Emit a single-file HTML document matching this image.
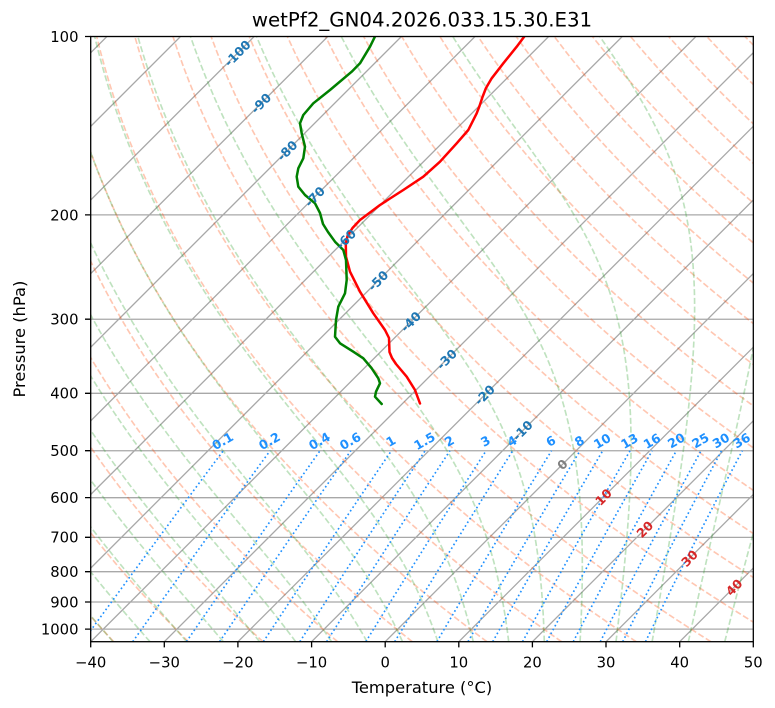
<!DOCTYPE html>
<html><head><meta charset="utf-8"><style>
html,body{margin:0;padding:0;background:#fff;width:775px;height:708px;overflow:hidden}
svg{display:block;font-family:"DejaVu Sans","Liberation Sans",sans-serif}
</style></head><body>
<svg id="s" width="775" height="708" viewBox="0 0 775 708" xmlns="http://www.w3.org/2000/svg">
<defs><clipPath id="c"><rect x="90.7" y="36.5" width="662.6" height="605.2"/></clipPath></defs>
<rect width="775" height="708" fill="#fff"/>
<g id="bg" clip-path="url(#c)" fill="none"></g>
<g clip-path="url(#c)" fill="none" stroke-width="2.5" stroke-linejoin="round" stroke-linecap="round">
<polyline stroke="#ff0000" points="524.3,36.5 516.7,46.7 503.3,63.3 491.7,78.3 486,88 482.5,97 479.5,106 476.7,113.3 468.3,130 456.7,143.3 440,161.7 423.3,176.7 403.3,190 390,198.5 380,205 370,212.5 360,220 352.5,228 347.5,236 345.8,244 346,256.7 350,271.7 360,291.7 373.3,313.3 385,330 389,338 389.5,352 392,358 396,364 406.7,376.7 415,390 420,403.5"/>
<polyline stroke="#008000" points="375,36.5 370,46.7 360,63.3 351.7,71.7 330,90 313.3,103.3 303.3,115 300,123.3 301.7,133.3 305,146.7 303.3,158.3 298.3,168.3 296.7,176.7 298.3,186.7 305,195 315,203.3 320,213 323,224 328,232 335,241.7 343.3,250 346,260 346.7,280 345,293.3 338.3,306.7 336,320 335,336.7 340,343.3 353.3,351.7 363.3,358.3 371.7,368.3 378.3,378.3 380,383.3 376,391.7 375,396.7 381.7,404"/>
</g>
<g font-weight="bold" font-size="12.5" text-anchor="middle" dominant-baseline="central">
<text transform="translate(237.4,53.3) rotate(-45)" fill="#1f77b4">-100</text>
<text transform="translate(261.0,103.3) rotate(-45)" fill="#1f77b4">-90</text>
<text transform="translate(287.2,150.7) rotate(-45)" fill="#1f77b4">-80</text>
<text transform="translate(314.8,196.7) rotate(-45)" fill="#1f77b4">-70</text>
<text transform="translate(345.9,239.3) rotate(-45)" fill="#1f77b4">-60</text>
<text transform="translate(378.1,280.7) rotate(-45)" fill="#1f77b4">-50</text>
<text transform="translate(410.7,321.7) rotate(-45)" fill="#1f77b4">-40</text>
<text transform="translate(446.7,359.3) rotate(-45)" fill="#1f77b4">-30</text>
<text transform="translate(484.6,395) rotate(-45)" fill="#1f77b4">-20</text>
<text transform="translate(522.5,430.5) rotate(-45)" fill="#1f77b4">-10</text>
<text transform="translate(562.4,464.5) rotate(-45)" fill="#808080">0</text>
<text transform="translate(603.5,497) rotate(-45)" fill="#d62728">10</text>
<text transform="translate(644.8,529.3) rotate(-45)" fill="#d62728">20</text>
<text transform="translate(689.5,558.3) rotate(-45)" fill="#d62728">30</text>
<text transform="translate(734.1,587.3) rotate(-45)" fill="#d62728">40</text>
</g>
<g font-weight="bold" font-size="12.5" text-anchor="middle" dominant-baseline="central" fill="#1e90ff">
<text transform="translate(222.6,441) rotate(-30)">0.1</text>
<text transform="translate(269.4,441) rotate(-30)">0.2</text>
<text transform="translate(319.4,441) rotate(-30)">0.4</text>
<text transform="translate(350.2,441) rotate(-30)">0.6</text>
<text transform="translate(390.7,441) rotate(-30)">1</text>
<text transform="translate(424.5,441) rotate(-30)">1.5</text>
<text transform="translate(449.3,441) rotate(-30)">2</text>
<text transform="translate(485.4,441) rotate(-30)">3</text>
<text transform="translate(512.0,441) rotate(-30)">4</text>
<text transform="translate(550.8,441) rotate(-30)">6</text>
<text transform="translate(579.4,441) rotate(-30)">8</text>
<text transform="translate(602.1,441) rotate(-30)">10</text>
<text transform="translate(629.4,441) rotate(-30)">13</text>
<text transform="translate(651.9,441) rotate(-30)">16</text>
<text transform="translate(676.2,440.5) rotate(-30)">20</text>
<text transform="translate(700.4,440.5) rotate(-30)">25</text>
<text transform="translate(720.9,440.5) rotate(-30)">30</text>
<text transform="translate(741.6,440.5) rotate(-30)">36</text>
</g>
<rect x="90.7" y="36.5" width="662.6" height="605.2" fill="none" stroke="#000" stroke-width="1.3"/>
<g stroke="#000" stroke-width="1.3">
<path d="M85 36.5H90.7M85 214.9H90.7M85 319.2H90.7M85 393.3H90.7M85 450.7H90.7M85 497.6H90.7M85 537.3H90.7M85 571.7H90.7M85 602H90.7M85 629.1H90.7"/>
<path d="M90.7 641.7V647.4M164.3 641.7V647.4M237.9 641.7V647.4M311.6 641.7V647.4M385.2 641.7V647.4M458.8 641.7V647.4M532.4 641.7V647.4M606 641.7V647.4M679.7 641.7V647.4M753.3 641.7V647.4"/>
</g>
<g font-size="14.8" fill="#000" text-anchor="end">
<text x="78.5" y="41.9">100</text>
<text x="78.5" y="220.3">200</text>
<text x="78.5" y="324.6">300</text>
<text x="78.5" y="398.7">400</text>
<text x="78.5" y="456.1">500</text>
<text x="78.5" y="503">600</text>
<text x="78.5" y="542.7">700</text>
<text x="78.5" y="577.1">800</text>
<text x="78.5" y="607.4">900</text>
<text x="78.5" y="634.5">1000</text>
</g>
<g font-size="14.8" fill="#000" text-anchor="middle">
<text x="90.7" y="667.3">−40</text>
<text x="164.3" y="667.3">−30</text>
<text x="237.9" y="667.3">−20</text>
<text x="311.6" y="667.3">−10</text>
<text x="385.2" y="667.3">0</text>
<text x="458.8" y="667.3">10</text>
<text x="532.4" y="667.3">20</text>
<text x="606" y="667.3">30</text>
<text x="679.7" y="667.3">40</text>
<text x="753.3" y="667.3">50</text>
</g>
<text x="422" y="693" font-size="16.3" text-anchor="middle" fill="#000">Temperature (°C)</text>
<text transform="translate(25,339.1) rotate(-90)" font-size="16.3" text-anchor="middle" fill="#000">Pressure (hPa)</text>
<text x="422" y="26.7" font-size="19.8" text-anchor="middle" fill="#000">wetPf2_GN04.2026.033.15.30.E31</text>
</svg>
<script>
(function(){
var L=90.7,R=753.3,TOP=36.5,B=641.7;
var ppx=(R-L)/90, ppd=(B-TOP)/Math.log10(10.5);
function Y(p){return TOP+Math.log10(p/100)*ppd;}
function X(t,p){return L+(t+40)*ppx+(B-Y(p));}
var NS='http://www.w3.org/2000/svg';
var bg=document.getElementById('bg');
function add(d,stroke,w,op,dash){
  if(!d)return;
  var e=document.createElementNS(NS,'path');
  e.setAttribute('d',d);e.setAttribute('stroke',stroke);
  e.setAttribute('stroke-width',w);e.setAttribute('stroke-opacity',op);
  if(dash)e.setAttribute('stroke-dasharray',dash);
  e.setAttribute('fill','none');bg.appendChild(e);
}
function pathFrom(pts){
  var d='',first=true;
  for(var i=0;i<pts.length;i++){
    var x=pts[i][0],y=pts[i][1];
    if(!isFinite(x)||!isFinite(y)||Math.abs(x)>5000){first=true;continue;}
    d+=(first?'M':'L')+x.toFixed(2)+' '+y.toFixed(2);first=false;
  }
  return d;
}
var g='';
for(var p=100;p<=1000;p+=100){g+='M'+L+' '+Y(p).toFixed(2)+'H'+R;}
for(var t=-140;t<=50;t+=10){var xb=L+(t+40)*ppx;g+='M'+xb.toFixed(2)+' '+B+'L'+(xb+(B-TOP)).toFixed(2)+' '+TOP;}
add(g,'#a8a8a8',1.3,1,null);
var kap=287.04749/1004.666;
var ps=[];for(var i=0;i<=150;i++)ps.push(1050-i*(950/150));
for(var th=233;th<=523;th+=10){
  var pts=ps.map(function(p){return [X(th*Math.pow(p/1000,kap)-273.15,p),Y(p)];});
  add(pathFrom(pts),'#ff4500',1.65,0.3,'6.1 2.64');
}
var Rd=287.04749,Cp=1004.666,Lv=2.50084e6,eps=0.6219569;
function es(T){return 6.112*Math.exp(17.67*(T-273.15)/(T-29.65));}
function f(p,T){var e=es(T);var r=eps*e/(p-e);return ((Rd*T+Lv*r)/(Cp+Lv*Lv*r*eps/(Rd*T*T)))/p;}
function step(p,T,h){var k1=f(p,T),k2=f(p+h/2,T+h/2*k1),k3=f(p+h/2,T+h/2*k2),k4=f(p+h,T+h*k3);return T+h/6*(k1+2*k2+2*k3+k4);}
for(var T0=233;T0<=343;T0+=5){
  var T=T0,pp=1000,low=[[pp,T]];
  while(pp<1050){T=step(pp,T,2.5);pp+=2.5;low.push([pp,T]);}
  low.reverse();
  T=T0;pp=1000;var up=[];
  while(pp>100){T=step(pp,T,-2.5);pp-=2.5;up.push([pp,T]);}
  var all=low.concat(up);
  add(pathFrom(all.map(function(a){return [X(a[1]-273.15,a[0]),Y(a[0])];})),'#2ca02c',1.65,0.3,'6.1 2.64');
}
var ws=[0.1,0.2,0.4,0.6,1,1.5,2,3,4,6,8,10,13,16,20,25,30,36];
ws.forEach(function(w){
  var pts=[];
  for(var p=1050;p>=500;p-=10){var e=p*w/(621.9569+w);var l=Math.log(e/6.112);var td=243.5*l/(17.67-l);pts.push([X(td,p),Y(p)]);}
  add(pathFrom(pts),'#1e90ff',1.65,1,'1.65 2.7');
});
})();
</script>
</body></html>
